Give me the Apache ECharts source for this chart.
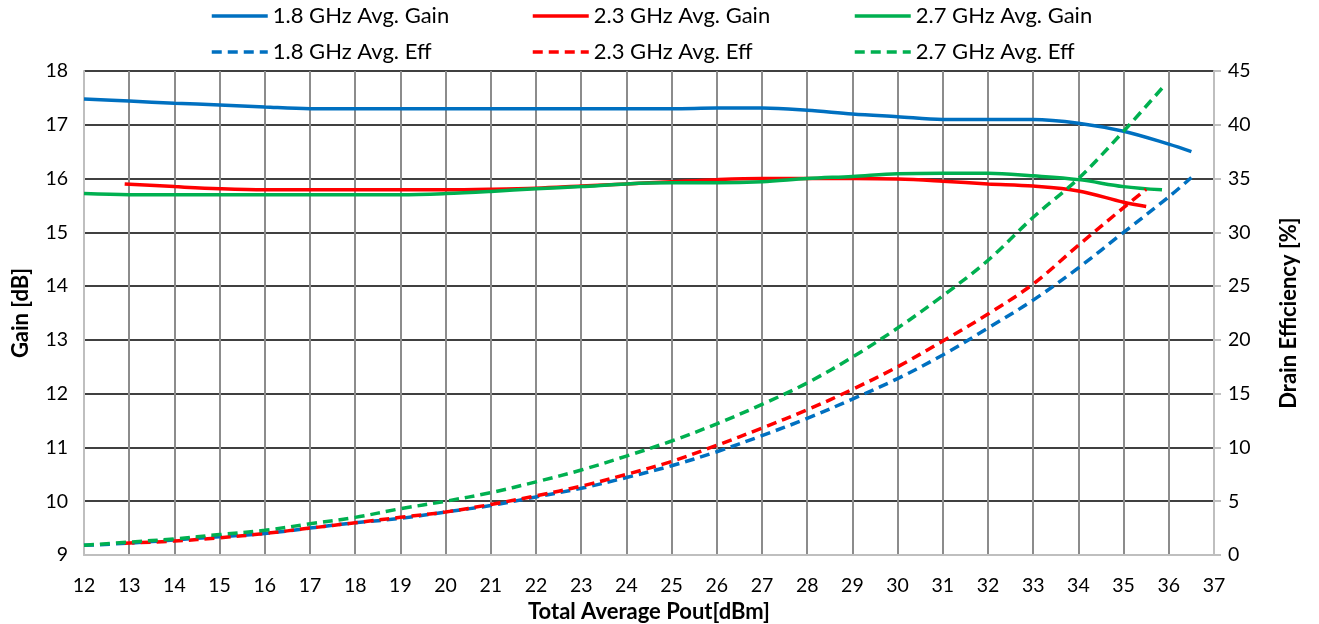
<!DOCTYPE html>
<html>
<head>
<meta charset="utf-8">
<script src="https://cdn.jsdelivr.net/npm/echarts@6/dist/echarts.min.js"></script>
<style>
html,body{margin:0;padding:0;background:#fff;}
#chart{width:1319px;height:624px;}
</style>
</head>
<body>
<div id="chart"></div>
<script>
// ---- data ----
var xTicks = [12,13,14,15,16,17,18,19,20,21,22,23,24,25,26,27,28,29,30,31,32,33,34,35,36,37];
var gainTicks = [9,10,11,12,13,14,15,16,17,18];
var effTicks = [0,5,10,15,20,25,30,35,40,45];

var pout18 = [12,13,14,15,16,17,18,19,20,21,22,23,24,25,26,27,28,29,30,31,32,33,34,35,36,36.5];
var gain18 = [17.48,17.44,17.40,17.37,17.33,17.30,17.30,17.30,17.30,17.30,17.30,17.30,17.30,17.30,17.31,17.31,17.27,17.20,17.15,17.10,17.10,17.10,17.03,16.88,16.64,16.50];
var eff18  = [0.9,1.1,1.4,1.7,2.0,2.5,3.0,3.4,4.0,4.6,5.4,6.2,7.2,8.3,9.6,11.1,12.7,14.5,16.4,18.6,21.1,23.7,26.7,30.0,33.3,35.1];

var pout23 = [12.9,14,15,16,17,18,19,20,21,22,23,24,25,26,27,28,29,30,31,32,33,34,35,35.5];
var gain23 = [15.90,15.85,15.81,15.79,15.79,15.79,15.79,15.79,15.80,15.82,15.86,15.90,15.94,15.98,16.00,16.00,16.00,15.99,15.95,15.90,15.86,15.77,15.56,15.48];
var eff23  = [1.1,1.3,1.6,2.0,2.5,3.0,3.5,4.0,4.7,5.5,6.4,7.5,8.7,10.2,11.8,13.5,15.4,17.5,19.9,22.4,25.2,28.8,32.3,34.0];

var pout27 = [12,13,14,15,16,17,18,19,20,21,22,23,24,25,26,27,28,29,30,31,32,33,34,35,35.85];
var gain27 = [15.72,15.70,15.70,15.70,15.70,15.70,15.70,15.70,15.72,15.76,15.81,15.85,15.90,15.92,15.92,15.94,16.00,16.04,16.09,16.10,16.10,16.05,15.98,15.85,15.79];
var eff27  = [0.9,1.2,1.5,1.9,2.3,2.9,3.5,4.3,5.0,5.8,6.8,7.9,9.2,10.6,12.2,14.0,16.0,18.4,21.1,24.1,27.4,31.4,35.0,39.4,43.4];

var names = ['1.8 GHz Avg. Gain','2.3 GHz Avg. Gain','2.7 GHz Avg. Gain','1.8 GHz Avg. Eff','2.3 GHz Avg. Eff','2.7 GHz Avg. Eff'];
var colors = ['#0070C0','#FF0000','#00B050'];

function pairs(xs, ys){ return xs.map(function(x,i){ return [x, ys[i]]; }); }

var FONT = 'Lato';
var chart = echarts.init(document.getElementById('chart'), null, {renderer:'canvas'});

function mkSeries(name, xs, ys, color, dashed, axisIdx){
  return {
    name: name, type: 'line', yAxisIndex: axisIdx,
    data: pairs(xs, ys), smooth: 0.35, symbol: 'none', showSymbol: false,
    lineStyle: {color: color, width: 3.5, type: dashed ? [10,6] : 'solid'},
    itemStyle: {color: color},
    emphasis: {disabled: true},
    z: dashed ? 4 : 3
  };
}

function mkLegend(left, data){
  return {
    orient: 'vertical', left: left, top: 5, padding: 0,
    itemWidth: 56, itemHeight: 20, itemGap: 14,
    data: data, selectedMode: false,
    itemStyle: {opacity: 0},
    lineStyle: {width: 3.5},
    textStyle: {fontFamily: FONT, fontSize: 22, color: '#000'}
  };
}

chart.setOption({
  animation: false,
  backgroundColor: '#fff',
  legend: [
    mkLegend(210, [names[0], names[3]]),
    mkLegend(531, [names[1], names[4]]),
    mkLegend(853, [names[2], names[5]])
  ],
  grid: {left: 84, right: 105, top: 71, bottom: 69, containLabel: false, outerBoundsMode: 'none'},
  xAxis: {
    type: 'value', min: xTicks[0], max: xTicks[xTicks.length-1], interval: 1,
    name: 'Total Average Pout[dBm]', nameLocation: 'middle', nameGap: 35,
    nameTextStyle: {fontFamily: FONT, fontSize: 22, fontWeight: 'bold', color: '#000'},
    axisLine: {show: true, lineStyle: {color: '#BFBFBF', width: 2}},
    axisTick: {show: false},
    axisLabel: {fontFamily: FONT, fontSize: 19.5, color: '#000', margin: 21},
    splitLine: {show: true, showMinLine: false, showMaxLine: false, lineStyle: {color: '#8C8C8C', width: 2}}
  },
  yAxis: [
    {
      type: 'value', position: 'left', min: gainTicks[0], max: gainTicks[gainTicks.length-1], interval: 1,
      name: 'Gain [dB]', nameLocation: 'middle', nameGap: 52,
      nameTextStyle: {fontFamily: FONT, fontSize: 22, fontWeight: 'bold', color: '#000'},
      axisLine: {show: true, lineStyle: {color: '#BFBFBF', width: 2}},
      axisTick: {show: false},
      axisLabel: {fontFamily: FONT, fontSize: 19.5, color: '#000', margin: 16},
      splitLine: {show: true, showMinLine: false, lineStyle: {color: '#000', width: 1.5}}
    },
    {
      type: 'value', position: 'right', min: effTicks[0], max: effTicks[effTicks.length-1], interval: 5,
      name: 'Drain Efficiency [%]', nameLocation: 'middle', nameGap: 64,
      nameTextStyle: {fontFamily: FONT, fontSize: 22, fontWeight: 'bold', color: '#000'},
      axisLine: {show: true, lineStyle: {color: '#BFBFBF', width: 2}},
      axisTick: {show: true, inside: false, length: 7, lineStyle: {color: '#BFBFBF', width: 2}},
      axisLabel: {fontFamily: FONT, fontSize: 19.5, color: '#000', margin: 14},
      splitLine: {show: false}
    }
  ],
  series: [
    mkSeries(names[0], pout18, gain18, colors[0], false, 0),
    mkSeries(names[1], pout23, gain23, colors[1], false, 0),
    mkSeries(names[2], pout27, gain27, colors[2], false, 0),
    mkSeries(names[3], pout18, eff18, colors[0], true, 1),
    mkSeries(names[4], pout23, eff23, colors[1], true, 1),
    mkSeries(names[5], pout27, eff27, colors[2], true, 1)
  ]
});
</script>
</body>
</html>
